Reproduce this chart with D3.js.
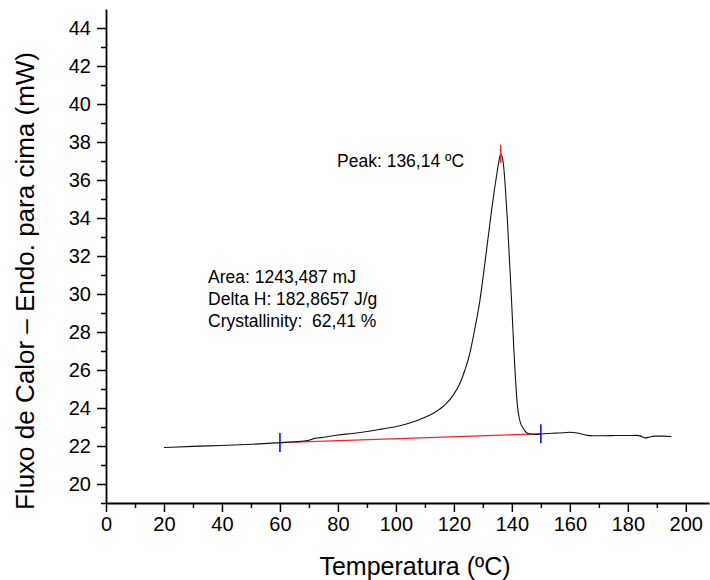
<!DOCTYPE html>
<html>
<head>
<meta charset="utf-8">
<script src="https://cdn.jsdelivr.net/npm/d3@7"></script>
<style>
  body { margin: 0; background: #fff; }
  svg { display: block; font-family: Arial, "Liberation Sans", sans-serif; }
</style>
</head>
<body>
<div id="container"><svg></svg></div>
<script>
let width = 710;
let height = 580;

// DSC curve, temperature (ºC) and heat flow (mW)
let temps = [20, 30, 40, 50, 60, 65, 70, 72, 75, 80, 85, 90, 95, 101.4, 105, 108.3, 112.9, 116.9, 119.8, 122.1,
    123.8, 125.5, 126.7, 127.8, 129, 130, 131, 132, 133, 134, 135, 135.6, 136.14, 136.7, 137.3, 138, 138.45, 139,
    139.65, 140, 140.75, 141.3, 141.95, 142.5, 143, 143.65, 144.5, 145.35, 146.5, 148, 150, 152, 155, 158,
    160, 162, 164, 166, 168, 172, 176, 180, 183, 184.5, 186, 187.5, 189, 192, 195];
let flow = [21.92, 21.98, 22.03, 22.09, 22.18, 22.22, 22.3, 22.4, 22.46, 22.58, 22.66, 22.76, 22.89, 23.07, 23.22, 23.4, 23.72, 24.16, 24.68, 25.3,
    26.0, 26.88, 27.75, 28.63, 29.68, 30.8, 32.0, 33.2, 34.4, 35.5, 36.5, 37.05, 37.35, 37.2, 36.5, 35.0, 33.9, 32.3,
    30.4, 29.3, 26.9, 25.4, 24.07, 23.5, 23.2, 23.0, 22.8, 22.67, 22.63, 22.61, 22.63, 22.66, 22.68, 22.7,
    22.72, 22.7, 22.63, 22.56, 22.54, 22.54, 22.55, 22.55, 22.56, 22.52, 22.43, 22.47, 22.52, 22.52, 22.5];

// integration baseline and peak
let baseT = [60, 150];
let baseF = [22.18, 22.64];
let peakT = 136.14;
let peakF = 37.35;

let xTicks = [0, 20, 40, 60, 80, 100, 120, 140, 160, 180, 200];
let yTicks = [20, 22, 24, 26, 28, 30, 32, 34, 36, 38, 40, 42, 44];

let peakText = "Peak: 136,14 ºC";
let infoText = ["Area: 1243,487 mJ", "Delta H: 182,8657 J/g", "Crystallinity:  62,41 %"];

let svg = d3.select('#container').select('svg')
    .attr('width', width)
    .attr('height', height);

let x = d3.scaleLinear().domain([0, 208]).range([106, 709]);
let y = d3.scaleLinear().domain([19, 45]).range([503, 9]);

// minor ticks
svg.append("g")
    .attr("transform", "translate(0,503)")
    .call(d3.axisBottom(x).tickValues(d3.range(10, 210, 20)).tickSize(5).tickFormat(""))
    .call(g => g.select(".domain").remove());
svg.append("g")
    .attr("transform", "translate(106,0)")
    .call(d3.axisLeft(y).tickValues(d3.range(19, 45, 2)).tickSize(5).tickFormat(""))
    .call(g => g.select(".domain").remove());

// major axes
let xAxis = svg.append("g")
    .attr("transform", "translate(0,503)")
    .call(d3.axisBottom(x).tickValues(xTicks).tickSize(9).tickSizeOuter(0).tickPadding(5));
let yAxis = svg.append("g")
    .attr("transform", "translate(106,0)")
    .call(d3.axisLeft(y).tickValues(yTicks).tickSize(9).tickSizeOuter(0).tickPadding(6));

svg.selectAll(".tick line").attr("stroke", "#000").attr("stroke-width", 1.5);
svg.selectAll(".domain").attr("stroke", "#000").attr("stroke-width", 1.8);
svg.selectAll(".tick text")
    .attr("font-family", "Arial, 'Liberation Sans', sans-serif")
    .attr("font-size", 20)
    .attr("fill", "#000");

// axis titles
svg.append("text")
    .attr("x", 415).attr("y", 575)
    .attr("text-anchor", "middle")
    .attr("font-size", 25)
    .text("Temperatura (ºC)");
svg.append("text")
    .attr("transform", "translate(34,281) rotate(-90)")
    .attr("text-anchor", "middle")
    .attr("font-size", 26)
    .text("Fluxo de Calor – Endo. para cima (mW)");

// baseline
svg.append("line")
    .attr("x1", x(baseT[0])).attr("y1", y(baseF[0]))
    .attr("x2", x(baseT[1])).attr("y2", y(baseF[1]))
    .attr("stroke", "#ff2020")
    .attr("stroke-width", 1.2);

// curve
let line = d3.line().x(d => x(d[0])).y(d => y(d[1])).curve(d3.curveMonotoneX);
svg.append("path")
    .datum(temps.map((t, i) => [t, flow[i]]))
    .attr("fill", "none")
    .attr("stroke", "#111")
    .attr("stroke-width", 1.1)
    .attr("d", line);

// markers
svg.selectAll("line.lim")
    .data(baseT)
    .join("line")
    .attr("class", "lim")
    .attr("x1", d => x(d)).attr("x2", d => x(d))
    .attr("y1", (d, i) => y(baseF[i] + 0.5))
    .attr("y2", (d, i) => y(baseF[i] - 0.5))
    .attr("stroke", "#0000ff")
    .attr("stroke-width", 1.5);
svg.append("line")
    .attr("x1", x(peakT)).attr("x2", x(peakT))
    .attr("y1", y(peakF + 0.5)).attr("y2", y(peakF - 0.45))
    .attr("stroke", "#ff2020")
    .attr("stroke-width", 1.5);

// annotations
svg.append("text")
    .attr("x", x(79.7)).attr("y", y(36.7))
    .attr("font-size", 17.5)
    .text(peakText);
svg.append("g")
    .selectAll("text")
    .data(infoText)
    .join("text")
    .attr("x", x(35.2))
    .attr("y", (d, i) => y(30.58) + i * 22)
    .attr("font-size", 17.5)
    .style("white-space", "pre")
    .text(d => d);
</script>
</body>
</html>
